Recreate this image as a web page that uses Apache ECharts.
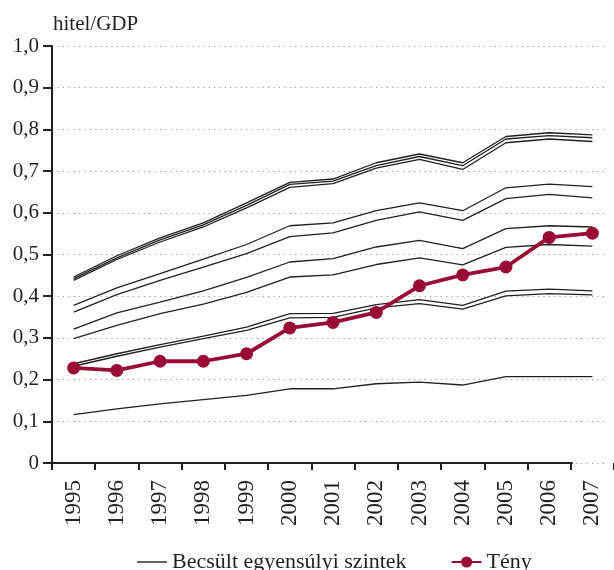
<!DOCTYPE html>
<html>
<head>
<meta charset="utf-8">
<script src="https://cdn.jsdelivr.net/npm/echarts@6/dist/echarts.min.js"></script>
<style>html,body{margin:0;padding:0;background:#fff}#c{width:614px;height:570px}</style>
</head>
<body>
<div id="c"></div>
<script>
const years = ['1995','1996','1997','1998','1999','2000','2001','2002','2003','2004','2005','2006','2007'];
const yTicks = [0,0.1,0.2,0.3,0.4,0.5,0.6,0.7,0.8,0.9,1.0];
const teny  = [0.228,0.222,0.244,0.244,0.262,0.324,0.337,0.361,0.425,0.451,0.470,0.541,0.551];
const est1  = [0.446,0.497,0.540,0.576,0.624,0.673,0.681,0.720,0.741,0.720,0.783,0.792,0.787];
const est2  = [0.442,0.492,0.535,0.571,0.618,0.668,0.676,0.713,0.735,0.713,0.777,0.785,0.780];
const est3  = [0.438,0.488,0.530,0.566,0.612,0.661,0.670,0.707,0.728,0.704,0.768,0.777,0.771];
const est4  = [0.378,0.420,0.454,0.489,0.524,0.569,0.576,0.605,0.624,0.605,0.660,0.669,0.663];
const est5  = [0.362,0.404,0.438,0.470,0.502,0.543,0.552,0.582,0.602,0.582,0.634,0.644,0.636];
const est6  = [0.321,0.360,0.386,0.413,0.445,0.482,0.490,0.518,0.534,0.514,0.562,0.569,0.566];
const est7  = [0.298,0.330,0.358,0.381,0.409,0.446,0.451,0.476,0.492,0.475,0.517,0.524,0.520];
const est8  = [0.238,0.262,0.284,0.304,0.326,0.358,0.359,0.380,0.392,0.378,0.412,0.417,0.413];
const est9  = [0.232,0.256,0.278,0.298,0.318,0.348,0.349,0.372,0.382,0.369,0.401,0.406,0.403];
const est10 = [0.116,0.130,0.142,0.152,0.162,0.178,0.178,0.190,0.194,0.187,0.207,0.207,0.207];
const estimates = [est1,est2,est3,est4,est5,est6,est7,est8,est9,est10];
const estName = 'Becsült egyensúlyi szintek';
const actName = 'Tény';

const FONT = '"Liberation Serif", "DejaVu Serif", serif';
const INK = '#231f20';
const RED = '#990c35';

const chart = echarts.init(document.getElementById('c'), null, {renderer:'canvas'});
const series = estimates.map(d => ({
  name: estName, type: 'line', xAxisIndex: 0, yAxisIndex: 0,
  data: d, symbol: 'none', showSymbol: false, silent: true,
  lineStyle: {color: INK, width: 1.3}, itemStyle: {color: INK}, z: 3
}));
series.push({
  name: actName, type: 'line', xAxisIndex: 0, yAxisIndex: 0,
  data: teny, symbol: 'circle', symbolSize: 13, showSymbol: true,
  lineStyle: {color: RED, width: 3.8}, itemStyle: {color: RED}, z: 5
});

chart.setOption({
  animation: false,
  backgroundColor: '#fff',
  title: {
    text: 'hitel/GDP', left: 48, top: 9,
    textStyle: {fontFamily: FONT, fontSize: 21, fontWeight: 'normal', color: INK}
  },
  legend: {
    top: 546, left: 132, itemWidth: 30, itemHeight: 14, itemGap: 44,
    textStyle: {fontFamily: FONT, fontSize: 22, color: INK},
    data: [
      {name: estName, icon: 'path://M0,0 L30,0 L30,1.4 L0,1.4 Z'},
      {name: actName}
    ]
  },
  grid: [
    {left: 52, width: 562, top: 46, height: 417},
    {left: 52, width: 555, top: 46, height: 417},
    {left: 45, width: 527, top: 46, height: 417}
  ],
  xAxis: [
    {
      type: 'category', gridIndex: 0, data: years, boundaryGap: true,
      axisLine: {show: false},
      axisTick: {show: true, length: 7, lineStyle: {color: INK, width: 2}},
      axisLabel: {rotate: 90, margin: 17, fontFamily: FONT, fontSize: 23, color: INK},
      splitLine: {show: false}
    },
    {type: 'value', gridIndex: 1, show: false},
    {
      type: 'value', gridIndex: 2, min: 0, max: 1,
      axisLine: {show: true, lineStyle: {color: INK, width: 2}},
      axisTick: {show: false}, axisLabel: {show: false}, splitLine: {show: false}
    }
  ],
  yAxis: [
    {type: 'value', gridIndex: 0, min: 0, max: 1, interval: 0.1, show: false},
    {
      type: 'value', gridIndex: 1, min: 0, max: 1, interval: 0.1,
      axisLine: {show: true, lineStyle: {color: INK, width: 2}},
      axisTick: {show: true, length: 9, lineStyle: {color: INK, width: 2}},
      axisLabel: {
        margin: 13, fontFamily: FONT, fontSize: 21, color: INK,
        formatter: v => {
          const t = yTicks.find(x => Math.abs(x - v) < 1e-6);
          return t === 0 ? '0' : (t === undefined ? v : t).toFixed(1).replace('.', ',');
        }
      },
      splitLine: {show: true, lineStyle: {color: '#9a9a9a', width: 1.2, type: [1.2, 4.2]}}
    },
    {type: 'value', gridIndex: 2, min: 0, max: 1, show: false}
  ],
  series: series
});
</script>
</body>
</html>
